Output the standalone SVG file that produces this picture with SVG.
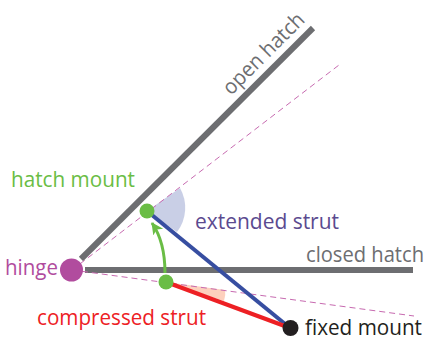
<svg xmlns="http://www.w3.org/2000/svg" width="426" height="341" viewBox="0 0 426 341">
<style>
text{font-family:"Open Sans","Noto Sans",sans-serif;font-size:21px}
.bar{stroke:#6d6e71;stroke-width:6;fill:none}
.dash{stroke:#c76ab0;stroke-width:1;stroke-dasharray:6 4;fill:none}
</style>
<defs><marker id="a" markerUnits="userSpaceOnUse" markerWidth="14" markerHeight="14" refX="11" refY="6" orient="auto"><path d="M0 0L12 6L0 12L3 6Z" fill="#6abd45"/></marker></defs>
<rect width="426" height="341" fill="#fff"/>
<g id="wedges">
<path d="M147 211L180 188A40 40 0 0 1 177 232Z" fill="#c9cfe6"/>
<path d="M166 282L225 290Q226 295 224 301Z" fill="#fdd0bd"/>
</g>
<g id="connectors">
<path class="bar" d="M81 259L313 28"/>
<path class="bar" d="M85 270H413"/>
<path class="dash" d="M72 270L339 65"/>
<path class="dash" d="M72 270L414 316"/>
<path d="M147 211L290 328" stroke="#374ea1" stroke-width="4" fill="none"/>
<path d="M166 282L290 328" stroke="#ed2024" stroke-width="4" fill="none"/>
<path d="M165 273C165 252 161 236 152 223" stroke="#6abd45" stroke-width="3" fill="none" marker-end="url(#a)"/>
</g>
<g id="hinge"><circle cx="71.5" cy="270" r="11.5" fill="#b14c9e"/><text x="5" y="275" fill="#b14c9e" textLength="53" lengthAdjust="spacingAndGlyphs">hinge</text></g>
<g id="hatch-mount"><circle cx="147" cy="211" r="7.5" fill="#6abd45"/><text x="11" y="187" fill="#6abd45" textLength="124" lengthAdjust="spacingAndGlyphs">hatch mount</text></g>
<g id="compressed-mount"><circle cx="166" cy="282" r="7.500" fill="#6abd45"/><text x="37" y="325" fill="#ed2024" textLength="169" lengthAdjust="spacingAndGlyphs">compressed strut</text></g>
<g id="fixed-mount"><circle cx="290.500" cy="328" r="8" fill="#231f20"/><text x="305" y="335" fill="#231f20" textLength="117" lengthAdjust="spacingAndGlyphs">fixed mount</text></g>
<g id="labels">
<text x="195" y="229" fill="#5b4a8f" textLength="144" lengthAdjust="spacingAndGlyphs">extended strut</text>
<text x="306" y="262" fill="#6d6e71" textLength="118" lengthAdjust="spacingAndGlyphs">closed hatch</text>
<text transform="translate(231 96) rotate(-45)" fill="#6d6e71" textLength="106" lengthAdjust="spacingAndGlyphs">open hatch</text>
</g>
</svg>
